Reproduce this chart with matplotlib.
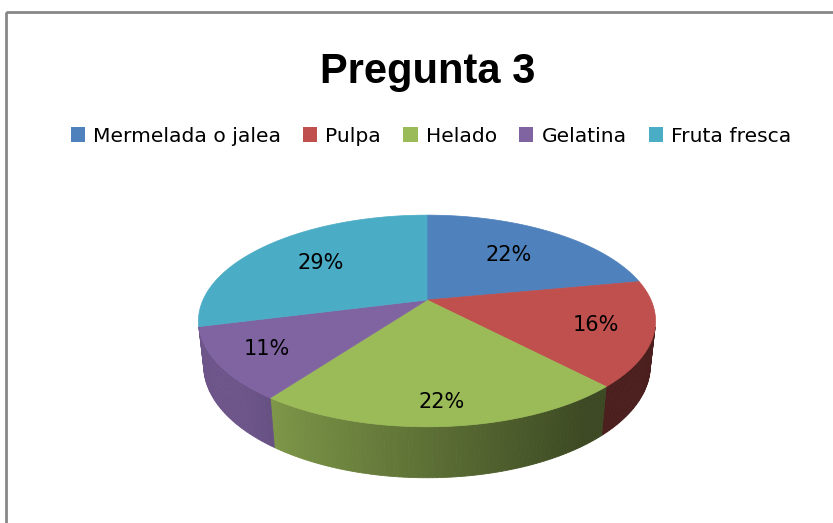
import numpy as np
import matplotlib.pyplot as plt
from matplotlib.patches import Polygon, Rectangle, Patch
from matplotlib.colors import to_rgb

# data
cats = ['Mermelada o jalea', 'Pulpa', 'Helado', 'Gelatina', 'Fruta fresca']
vals = [22, 16, 22, 11, 29]
colors = ['#4F81BD', '#C0504D', '#9BBB59', '#8064A2', '#4BACC6']

# 3d view of the pie (screen pixels)
cx, cy = 427, 300
D = 4.5
elev = np.radians(27)
foc = 1008
h = 0.225

def proj(phi, r=1.0, z=0.0):
    u = r*np.cos(phi)
    v = r*np.sin(phi)
    depth = D + v*np.cos(elev) - z*np.sin(elev)
    return cx + foc*u/depth, cy - foc*(v*np.sin(elev) + z*np.cos(elev))/depth

def shade(phi):
    return np.clip(0.6 - 0.35*np.cos(phi), 0.39, 0.85)

fig = plt.figure(figsize=(8.33, 5.23), dpi=100)
ax = fig.add_axes([0, 0, 1, 1])
ax.set_xlim(0, 833)
ax.set_ylim(523, 0)
ax.axis('off')

fr = np.array(vals, dtype=float)/np.sum(vals)
edges = np.pi/2 - 2*np.pi*np.concatenate([[0], np.cumsum(fr)])

# visible part of the side wall
lim = np.arcsin(1/(D*np.cos(elev)))
vis_lo, vis_hi = -np.pi + lim, -lim

# side walls
for k in range(len(vals)):
    a_hi, a_lo = edges[k], edges[k+1]
    base = np.array(to_rgb(colors[k]))
    for shift in (-2*np.pi, 0, 2*np.pi):
        lo = max(a_lo + shift, vis_lo)
        hi = min(a_hi + shift, vis_hi)
        if hi <= lo:
            continue
        n = max(2, int(np.degrees(hi - lo)))
        ph = np.linspace(lo, hi, n+1)
        for i in range(n):
            p0, p1 = ph[i], ph[i+1]
            pts = [proj(p0), proj(p1), proj(p1, z=-h), proj(p0, z=-h)]
            c = base*shade(0.5*(p0 + p1))
            ax.add_patch(Polygon(pts, closed=True, facecolor=c, edgecolor=c, lw=0.6))

# top of the pie
for k in range(len(vals)):
    ph = np.linspace(edges[k], edges[k+1], 120)
    pts = [proj(0, r=0)] + [proj(p) for p in ph]
    ax.add_patch(Polygon(pts, closed=True, facecolor=colors[k], edgecolor=colors[k], lw=0.5))

# percent labels
for k in range(len(vals)):
    mid = 0.5*(edges[k] + edges[k+1])
    r = 0.72 - 0.12*np.sin(mid)
    x, y = proj(mid, r=r)
    ax.text(x, y, '{:.0f}%'.format(fr[k]*100), ha='center', va='center',
            fontsize=15, family='DejaVu Sans', color='black')

# chart border
ax.add_patch(Rectangle((6, 12), 900, 600, fill=False, edgecolor='#878787', lw=2))

fig.text(427.5/833, 1 - 83/523, 'Pregunta 3', ha='center', va='baseline',
         fontsize=30, fontweight='bold', family='Liberation Sans')

handles = [Patch(facecolor=c, edgecolor='none', label=n) for n, c in zip(cats, colors)]
fig.legend(handles=handles, loc='center', bbox_to_anchor=(431/833, 1 - 136/523),
           ncol=5, frameon=False, prop={'family': 'DejaVu Sans', 'size': 14.6},
           handlelength=0.7, handleheight=0.7, handletextpad=0.4,
           columnspacing=1.1, borderaxespad=0)

plt.savefig('out.png', dpi=100)
